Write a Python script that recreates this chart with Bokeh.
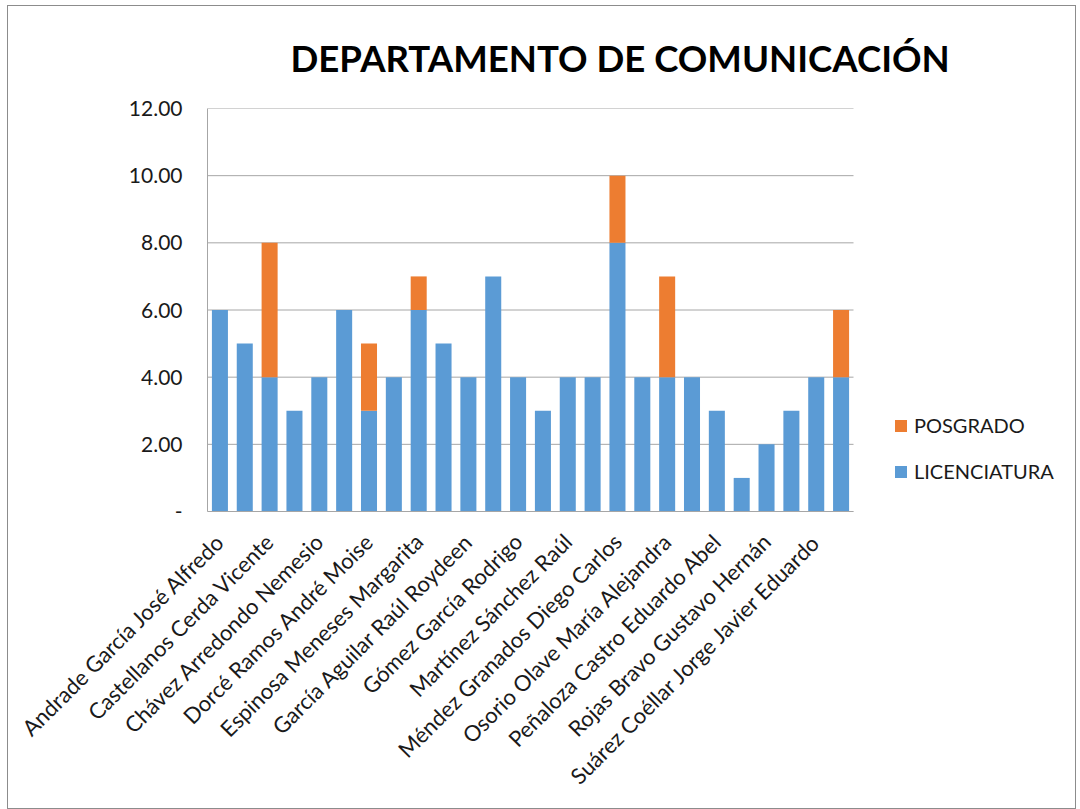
from bokeh.plotting import figure
from bokeh.models import ColumnDataSource, FixedTicker, Legend, LegendItem, NumeralTickFormatter, Range1d
from bokeh.embed import file_html
from bokeh.resources import INLINE
import math

# ---- data ----
position = list(range(1, 27))
licenciatura = [6, 5, 4, 3, 4, 6, 3, 4, 6, 5, 4, 7, 4, 3, 4, 4, 8, 4, 4, 4, 3, 1, 2, 3, 4, 4]
posgrado = [0, 0, 4, 0, 0, 0, 2, 0, 1, 0, 0, 0, 0, 0, 0, 0, 2, 0, 3, 0, 0, 0, 0, 0, 0, 2]
label_positions = [1, 3, 5, 7, 9, 11, 13, 15, 17, 19, 21, 23, 25]
labels = [
    "Andrade García José Alfredo",
    "Castellanos Cerda Vicente",
    "Chávez Arredondo Nemesio",
    "Dorcé Ramos André Moise",
    "Espinosa Meneses Margarita",
    "García Aguilar Raúl Roydeen",
    "Gómez García Rodrigo",
    "Martínez Sánchez Raúl",
    "Méndez Granados Diego Carlos",
    "Osorio Olave María Alejandra",
    "Peñaloza Castro Eduardo Abel",
    "Rojas Bravo Gustavo Hernán",
    "Suárez Coéllar Jorge Javier Eduardo",
]
y_ticks = [0, 2, 4, 6, 8, 10, 12]
title_text = "DEPARTAMENTO DE COMUNICACIÓN"

BLUE = "#5B9BD5"
ORANGE = "#ED7D31"
GRID = "#A6A6A6"
TEXT = "#1A1A1A"
FONT = "Lato"

# layout: the bar area is 646 px wide for the 26 categories; the frame is
# extended to the right so that the legend can sit inside it
W, H = 1067, 802
LEFT, RIGHT, TOP, BOTTOM = 199, 15, 102, 297
n = len(position)
x_lo, x_hi = position[0] - 0.5, position[-1] + 0.5
px_per_unit = 646 / n
frame_w = W - LEFT - RIGHT
x_end = x_lo + frame_w / px_per_unit

src = ColumnDataSource(dict(x=position, lic=licenciatura, pos=posgrado))
grid_src = ColumnDataSource(dict(y=y_ticks, x0=[x_lo] * len(y_ticks), x1=[x_hi] * len(y_ticks)))

p = figure(
    width=W, height=H, output_backend="svg", toolbar_location=None,
    x_range=Range1d(x_lo, x_end), y_range=Range1d(0, 12),
    min_border_left=LEFT, min_border_right=RIGHT, min_border_top=TOP, min_border_bottom=BOTTOM,
)
p.styles = {"margin-left": "8px", "margin-top": "6px", "outline": "1px solid #8C8C8C"}

# horizontal gridlines limited to the category area
p.segment(x0="x0", x1="x1", y0="y", y1="y", source=grid_src, line_color=GRID, line_width=1)

r = p.vbar_stack(["lic", "pos"], x="x", width=0.645, source=src,
                 color=[BLUE, ORANGE], line_color=None)

p.title.text = title_text
p.title.align = "left"
p.title.offset = 83
p.title.text_font = FONT
p.title.text_font_style = "bold"
p.title.text_font_size = "36.6px"
p.title.text_color = "black"
p.title.standoff = 54
p.title.vertical_align = "top"

# y axis
p.yaxis.ticker = FixedTicker(ticks=y_ticks)
p.yaxis.formatter = NumeralTickFormatter(format="0.00")
p.yaxis.major_label_overrides = {0: "-"}
p.yaxis.major_label_text_font = FONT
p.yaxis.major_label_text_font_size = "21px"
p.yaxis.major_label_text_color = TEXT
p.yaxis.major_label_standoff = 19
p.yaxis.major_tick_line_color = None
p.yaxis.minor_tick_line_color = None
p.yaxis.axis_line_color = GRID

# x axis
p.xaxis.ticker = FixedTicker(ticks=label_positions)
p.xaxis.bounds = (x_lo, x_hi)
p.xaxis.major_label_overrides = {pos: lab for pos, lab in zip(label_positions, labels)}
p.xaxis.major_label_orientation = math.pi / 4
p.xaxis.major_label_text_font = FONT
p.xaxis.major_label_text_font_size = "22px"
p.xaxis.major_label_text_color = TEXT
p.xaxis.major_label_standoff = 20
p.xaxis.major_tick_line_color = None
p.xaxis.minor_tick_line_color = None
p.xaxis.axis_line_color = GRID

p.xgrid.grid_line_color = None
p.ygrid.grid_line_color = None
p.outline_line_color = None

legend = Legend(
    items=[LegendItem(label="POSGRADO", renderers=[r[1]]),
           LegendItem(label="LICENCIATURA", renderers=[r[0]])],
    location=(686, 28), orientation="vertical",
    label_text_font=FONT, label_text_font_size="20px", label_text_color=TEXT,
    glyph_width=15, glyph_height=15, label_height=20, spacing=22,
    padding=0, margin=0, border_line_color=None, background_fill_alpha=0,
    label_standoff=6,
)
p.add_layout(legend, "center")

open("out.html", "w").write(file_html(p, INLINE))
